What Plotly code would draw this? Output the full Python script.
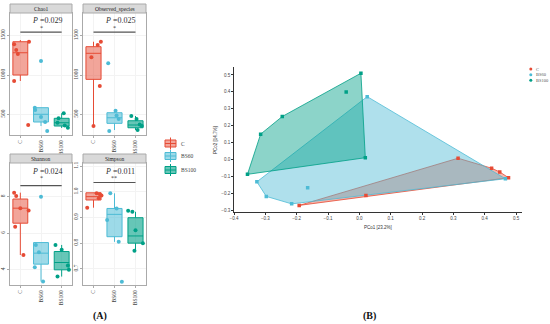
import plotly.graph_objects as go

W, H = 550, 324
categories = ["C", "BS60", "BS100"]
colors = ["#E64B35", "#4DBBD5", "#00A087"]
fills = ["rgba(230,75,53,0.5)", "rgba(77,187,213,0.55)", "rgba(0,160,135,0.6)"]

# ---- alpha diversity: box statistics (per group C, BS60, BS100)
chao1_q1 = [1000, 403, 352]
chao1_med = [1283, 501, 394]
chao1_q3 = [1423, 585, 450]
chao1_lo = [924, 352, 327]
chao1_hi = [1445, 585, 513]
chao1_pts = [[1390, 1423, 1318, 1267, 924, 365], [1178, 585, 555, 466, 403, 288], [513, 450, 394, 360, 330]]
chao1_jit = [[-0.3, 0.42, -0.2, -0.12, -0.3, 0.38], [0.0, -0.3, -0.28, 0.0, 0.2, 0.3], [0.1, -0.15, -0.2, 0.15, 0.3]]

obs_q1 = [945, 386, 330]
obs_med = [1276, 457, 365]
obs_q3 = [1360, 521, 419]
obs_lo = [352, 301, 301]
obs_hi = [1423, 546, 479]
obs_pts = [[1423, 1380, 1225, 860, 352], [1149, 546, 485, 441, 288], [479, 441, 371, 352, 301]]
obs_jit = [[0.35, 0.2, -0.1, 0.3, 0.0], [-0.3, 0.05, 0.1, 0.2, -0.25], [-0.2, 0.05, 0.2, 0.3, 0.1]]

sha_q1 = [6.55, 4.31, 4.0]
sha_med = [7.37, 4.91, 4.4]
sha_q3 = [7.87, 5.49, 5.0]
sha_lo = [4.81, 3.36, 3.63]
sha_hi = [8.22, 5.49, 5.36]
sha_pts = [[8.22, 8.04, 7.37, 7.24, 6.36, 4.81], [8.0, 5.36, 4.96, 4.14, 3.36], [5.36, 5.1, 4.23, 4.0, 3.63]]
sha_jit = [[-0.3, -0.2, 0.0, 0.4, -0.25, 0.15], [0.0, -0.25, -0.1, -0.3, 0.1], [-0.3, 0.0, 0.3, 0.35, -0.2]]

sim_q1 = [0.968, 0.825, 0.80]
sim_med = [0.981, 0.912, 0.828]
sim_q3 = [0.996, 0.935, 0.899]
sim_lo = [0.938, 0.805, 0.77]
sim_hi = [0.996, 0.994, 0.922]
sim_pts = [[0.994, 0.99, 0.985, 0.975, 0.938], [0.994, 0.935, 0.89, 0.805, 0.65], [0.926, 0.922, 0.85, 0.80, 0.77]]
sim_jit = [[0.15, 0.3, 0.38, 0.25, -0.3], [-0.2, 0.1, -0.35, 0.2, 0.35], [-0.35, -0.15, 0.0, 0.35, -0.05]]

panel_titles = ["Chao1", "Observed_species", "Shannon", "Simpson"]
p_values = ["0.029", "0.025", "0.024", "0.011"]
signif = ["*", "*", "*", "**"]
y_ranges = [[238, 1788], [238, 1788], [3.17, 9.84], [0.637, 1.112]]
y_ticks = [[500, 1000, 1500], [500, 1000, 1500], [4, 6, 8], [0.7, 0.8, 0.9, 1.0, 1.1]]
y_ticktext = [["500", "1000", "1500"], ["500", "1000", "1500"], ["4", "6", "8"], ["0.7", "0.8", "0.9", "1.0", "1.1"]]
bracket_y = [1545, 1545, 8.6, 1.036]

# ---- PCoA coordinates
pc_C_x = [-0.192, 0.021, 0.315, 0.422, 0.448, 0.476]
pc_C_y = [-0.269, -0.210, 0.009, -0.050, -0.072, -0.106]
pc_BS60_x = [0.025, -0.327, -0.297, -0.216, -0.165, 0.466]
pc_BS60_y = [0.372, -0.130, -0.216, -0.260, -0.165, -0.112]
pc_BS100_x = [0.005, -0.042, -0.246, -0.315, -0.357, 0.019]
pc_BS100_y = [0.510, 0.400, 0.255, 0.151, -0.086, 0.012]
pc1_label = "PCo1 [23.2%]"
pc2_label = "PCo2 [14.7%]"


def X(px):
    return px / W


def Y(py):
    return 1 - py / H


def hull(xs, ys):
    pts = sorted(set(zip(xs, ys)))

    def cross(o, a, b):
        return (a[0] - o[0]) * (b[1] - o[1]) - (a[1] - o[1]) * (b[0] - o[0])
    lower, upper = [], []
    for p in pts:
        while len(lower) >= 2 and cross(lower[-2], lower[-1], p) <= 0:
            lower.pop()
        lower.append(p)
    for p in reversed(pts):
        while len(upper) >= 2 and cross(upper[-2], upper[-1], p) <= 0:
            upper.pop()
        upper.append(p)
    h = lower[:-1] + upper[:-1]
    h.append(h[0])
    return [p[0] for p in h], [p[1] for p in h]


def note(px, py, text, size, family, color, xanchor="center", angle=0):
    return dict(xref="paper", yref="paper", x=X(px), y=Y(py), text=text,
                xanchor=xanchor, yanchor="middle", textangle=angle, showarrow=False,
                font=dict(family=family, size=size, color=color))


fig = go.Figure()
serif = "Liberation Serif"
sans = "Liberation Sans"

panels = [
    (chao1_q1, chao1_med, chao1_q3, chao1_lo, chao1_hi, chao1_pts, chao1_jit),
    (obs_q1, obs_med, obs_q3, obs_lo, obs_hi, obs_pts, obs_jit),
    (sha_q1, sha_med, sha_q3, sha_lo, sha_hi, sha_pts, sha_jit),
    (sim_q1, sim_med, sim_q3, sim_lo, sim_hi, sim_pts, sim_jit),
]
# pixel boxes of the four facets: (x0, x1, y0, y1)
facet_px = [(10, 72, 13, 135), (83, 146, 13, 135), (10, 72, 163, 285), (83, 146, 163, 285)]

shapes = []
annotations = []
layout_axes = {}
for k, (q1, med, q3, lo, hi, pts, jit) in enumerate(panels):
    n = k + 1
    xa = "x" if n == 1 else f"x{n}"
    ya = "y" if n == 1 else f"y{n}"
    for g in range(3):
        fig.add_trace(go.Box(
            x=[g], q1=[q1[g]], median=[med[g]], q3=[q3[g]],
            lowerfence=[lo[g]], upperfence=[hi[g]],
            xaxis=xa, yaxis=ya, width=0.72, whiskerwidth=0,
            fillcolor=fills[g], line=dict(color=colors[g], width=1),
            boxpoints=False, showlegend=False, hoverinfo="skip"))
        fig.add_trace(go.Scatter(
            x=[g + j for j in jit[g]], y=pts[g], mode="markers",
            xaxis=xa, yaxis=ya, marker=dict(color=colors[g], size=4),
            showlegend=False, hoverinfo="skip"))
    x0, x1, y0, y1 = facet_px[k]
    axx = dict(domain=[X(x0), X(x1)], range=[-0.5, 2.5], anchor=ya, automargin=False,
               tickvals=[0, 1, 2], ticktext=categories, tickangle=-90,
               tickfont=dict(family=serif, size=5.5, color="#444"),
               showline=True, mirror=True, linecolor="#AAAAAA", linewidth=1,
               ticks="outside", ticklen=2, tickcolor="#AAAAAA",
               showgrid=True, gridcolor="#F3F3F3", zeroline=False)
    axy = dict(domain=[Y(y1), Y(y0)], range=y_ranges[k], anchor=xa, automargin=False,
               tickvals=y_ticks[k], ticktext=y_ticktext[k], tickangle=-90,
               tickfont=dict(family=serif, size=5.5, color="#444"),
               showline=True, mirror=True, linecolor="#AAAAAA", linewidth=1,
               ticks="outside", ticklen=2, tickcolor="#AAAAAA",
               showgrid=True, gridcolor="#F3F3F3", zeroline=False)
    layout_axes["xaxis" if n == 1 else f"xaxis{n}"] = axx
    layout_axes["yaxis" if n == 1 else f"yaxis{n}"] = axy
    # strip
    shapes.append(dict(type="rect", xref="paper", yref="paper",
                       x0=X(x0), x1=X(x1), y0=Y(y0), y1=Y(y0 - 9),
                       fillcolor="#D9D9D9", line=dict(color="#AAAAAA", width=1)))
    annotations.append(note((x0 + x1) / 2, y0 - 4.5, panel_titles[k], 5.5, serif, "#222"))
    # bracket + p value
    shapes.append(dict(type="line", xref=xa, yref=ya, x0=0, x1=2,
                       y0=bracket_y[k], y1=bracket_y[k], line=dict(color="#555", width=1.2)))
    annotations.append(note(x0 + 37, y0 + 8, "<i>P</i> =" + p_values[k], 8, serif, "#333"))
    annotations.append(note(x0 + 31, y0 + 15, signif[k], 6, serif, "#333"))

# legend A (manual box keys)
leg_y = [143.5, 156, 170]
for g in range(3):
    cy = leg_y[g]
    shapes.append(dict(type="line", xref="paper", yref="paper", x0=X(170.5), x1=X(170.5),
                       y0=Y(cy - 6), y1=Y(cy + 6), line=dict(color=colors[g], width=1)))
    shapes.append(dict(type="rect", xref="paper", yref="paper", x0=X(165), x1=X(176),
                       y0=Y(cy - 3.5), y1=Y(cy + 3.5), fillcolor=fills[g],
                       line=dict(color=colors[g], width=1)))
    shapes.append(dict(type="line", xref="paper", yref="paper", x0=X(165), x1=X(176),
                       y0=Y(cy), y1=Y(cy), line=dict(color=colors[g], width=1)))
    annotations.append(note(179, cy, categories[g], 5.5, serif, "#444", xanchor="left"))

# ---- PCoA
pc_sets = [(pc_C_x, pc_C_y), (pc_BS60_x, pc_BS60_y), (pc_BS100_x, pc_BS100_y)]
hull_fill = ["rgba(230,75,53,0.4)", "rgba(77,187,213,0.45)", "rgba(0,160,135,0.45)"]
for g, (xs, ys) in enumerate(pc_sets):
    hx, hy = hull(xs, ys)
    fig.add_trace(go.Scatter(x=hx, y=hy, mode="lines", fill="toself",
                             fillcolor=hull_fill[g], line=dict(color=colors[g], width=0.8),
                             xaxis="x5", yaxis="y5", showlegend=False, hoverinfo="skip"))
for g, (xs, ys) in enumerate(pc_sets):
    fig.add_trace(go.Scatter(x=xs, y=ys, mode="markers",
                             marker=dict(color=colors[g], size=3.5, symbol="square"),
                             xaxis="x5", yaxis="y5", showlegend=False, hoverinfo="skip"))

layout_axes["xaxis5"] = dict(domain=[X(234), X(522)], range=[-0.4, 0.519], anchor="y5",
                             automargin=False,
                             tickvals=[-0.4, -0.3, -0.2, -0.1, 0, 0.1, 0.2, 0.3, 0.4, 0.5],
                             tickformat=".1f", showline=True, linecolor="#333", linewidth=0.8,
                             ticks="outside", ticklen=2, tickcolor="#333",
                             tickfont=dict(family=sans, size=4.5, color="#444"),
                             showgrid=False, zeroline=False)
layout_axes["yaxis5"] = dict(domain=[Y(212), Y(67.3)], range=[-0.308, 0.545], anchor="x5",
                             automargin=False,
                             tickvals=[-0.3, -0.2, -0.1, 0, 0.1, 0.2, 0.3, 0.4, 0.5],
                             tickformat=".1f", showline=True, linecolor="#333", linewidth=0.8,
                             ticks="outside", ticklen=2, tickcolor="#333",
                             tickfont=dict(family=sans, size=4.5, color="#444"),
                             showgrid=False, zeroline=False)
annotations.append(note(378, 227, pc1_label, 4.5, sans, "#333"))
annotations.append(note(216, 140, pc2_label, 4.5, sans, "#333", angle=-90))

# legend B (manual)
legb_y = [69, 74.7, 80.3]
for g in range(3):
    cy = legb_y[g]
    shapes.append(dict(type="circle", xref="paper", yref="paper", x0=X(529.3), x1=X(532.3),
                       y0=Y(cy - 1.5), y1=Y(cy + 1.5), fillcolor=colors[g], line=dict(width=0)))
    annotations.append(note(534, cy, categories[g], 4.5, serif, "#555", xanchor="left"))

annotations.append(note(100, 316, "<b>(A)</b>", 10, serif, "#111"))
annotations.append(note(369, 316, "<b>(B)</b>", 10, serif, "#111"))

fig.update_layout(width=W, height=H, margin=dict(l=0, r=0, t=0, b=0, autoexpand=False),
                  paper_bgcolor="white", plot_bgcolor="white",
                  shapes=shapes, annotations=annotations, showlegend=False,
                  **layout_axes)
fig.write_html("out.html", config={"displayModeBar": False},
               post_script="document.body.style.margin='0';")
